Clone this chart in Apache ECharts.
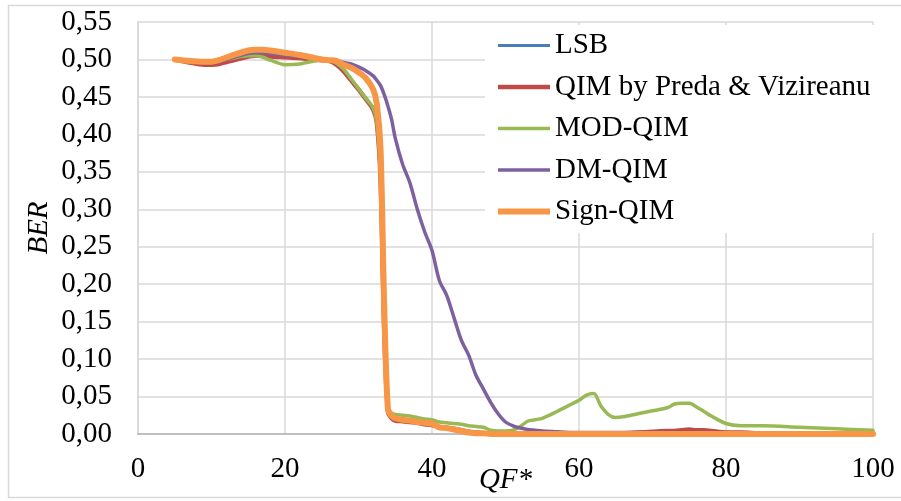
<!DOCTYPE html>
<html>
<head>
<meta charset="utf-8">
<script src="https://cdn.jsdelivr.net/npm/echarts@6/dist/echarts.min.js"></script>
<style>html,body{margin:0;padding:0;background:#fff;}#c{width:901px;height:501px;}</style>
</head>
<body>
<div id="c"></div>
<script>
var qf = [5,7,9,10,11,13,15,16,17,18,20,22,24,25,26,27,28,29,30,31,32,32.5,33,33.5,34,34.5,35,36,37,38,39,40,41,42,43,44,45,46,47,48,49,50,51,52,53,54,55,57,59,60,61,62,63,64,65,66,68,70,72,73,74,75,76,77,78,80,82,85,90,95,100];

var lsb = [0.500,0.498,0.497,0.497,0.499,0.506,0.511,0.512,0.512,0.511,0.508,0.505,0.501,0.500,0.499,0.497,0.492,0.488,0.482,0.474,0.460,0.440,0.380,0.170,0.034,0.024,0.021,0.019,0.018,0.016,0.015,0.014,0.009,0.008,0.006,0.004,0.002,0.001,0.001,0.000,0.000,0.000,0.000,0.000,0.000,0.000,0.000,0.000,0.000,0.000,0.000,0.000,0.000,0.000,0.000,0.000,0.000,0.000,0.000,0.000,0.000,0.000,0.000,0.000,0.000,0.000,0.000,0.000,0.000,0.000,0.000];

var qim = [0.500,0.496,0.493,0.493,0.494,0.499,0.504,0.505,0.505,0.504,0.503,0.502,0.500,0.499,0.498,0.493,0.484,0.472,0.460,0.447,0.433,0.415,0.340,0.140,0.030,0.021,0.018,0.017,0.016,0.015,0.013,0.012,0.009,0.008,0.007,0.005,0.003,0.002,0.001,0.001,0.001,0.001,0.001,0.001,0.001,0.001,0.001,0.001,0.001,0.001,0.001,0.001,0.001,0.001,0.001,0.001,0.002,0.003,0.004,0.004,0.005,0.006,0.005,0.005,0.004,0.002,0.002,0.001,0.001,0.001,0.001];

var modQim = [0.500,0.498,0.497,0.497,0.498,0.502,0.505,0.505,0.503,0.499,0.493,0.494,0.498,0.499,0.499,0.495,0.487,0.474,0.461,0.448,0.435,0.415,0.340,0.140,0.035,0.028,0.026,0.025,0.024,0.022,0.020,0.019,0.016,0.015,0.014,0.013,0.011,0.010,0.009,0.005,0.004,0.004,0.005,0.010,0.017,0.019,0.021,0.030,0.040,0.045,0.052,0.054,0.037,0.026,0.022,0.023,0.027,0.031,0.035,0.040,0.041,0.041,0.036,0.030,0.024,0.014,0.011,0.011,0.009,0.007,0.005];

var dmQim = [0.500,0.498,0.496,0.496,0.497,0.503,0.508,0.509,0.509,0.508,0.506,0.504,0.501,0.500,0.499,0.498,0.496,0.494,0.490,0.485,0.478,0.472,0.465,0.453,0.438,0.420,0.395,0.360,0.335,0.300,0.270,0.245,0.205,0.185,0.155,0.125,0.105,0.078,0.060,0.042,0.027,0.016,0.011,0.008,0.006,0.005,0.004,0.003,0.002,0.002,0.002,0.002,0.002,0.002,0.002,0.002,0.002,0.002,0.002,0.002,0.002,0.002,0.002,0.002,0.002,0.001,0.001,0.001,0.001,0.001,0.001];

var signQim = [0.500,0.498,0.497,0.497,0.499,0.506,0.512,0.513,0.513,0.512,0.509,0.506,0.502,0.500,0.499,0.498,0.493,0.489,0.483,0.475,0.460,0.440,0.380,0.170,0.034,0.024,0.021,0.019,0.018,0.016,0.015,0.014,0.009,0.008,0.006,0.004,0.002,0.001,0.001,0.000,0.000,0.000,0.000,0.000,0.000,0.000,0.000,0.000,0.000,0.000,0.000,0.000,0.000,0.000,0.000,0.000,0.000,0.000,0.000,0.000,0.000,0.000,0.000,0.000,0.000,0.000,0.000,0.000,0.000,0.000,0.000];

var seriesNames = ['LSB','QIM by Preda & Vizireanu','MOD-QIM','DM-QIM','Sign-QIM'];
var seriesValues = [lsb, qim, modQim, dmQim, signQim];
var seriesColors = ['#4a7ebb','#be4b48','#98b954','#7d60a0','#f79646'];
var seriesWidths = [3, 4.5, 3.5, 3.5, 6];

var FONT = "'Liberation Serif','Times New Roman',serif";
var FS = 29;

function pairs(vals){ return qf.map(function(x,i){ return [x, vals[i]]; }); }

var chart = echarts.init(document.getElementById('c'), null, {renderer:'canvas'});
chart.setOption({
  animation: false,
  backgroundColor: '#ffffff',
  textStyle: {fontFamily: FONT},
  graphic: [{
    type: 'rect', silent: true, z: -10,
    shape: {x: 8.5, y: 5.5, width: 900, height: 492},
    style: {fill: 'none', stroke: '#d9d9d9', lineWidth: 1.5}
  }],
  grid: {left: 138, right: 28, top: 22, bottom: 67, containLabel: false, outerBoundsMode: 'none'},
  legend: {
    orient: 'vertical',
    left: 485, top: 25,
    padding: [6, 5, 7, 13],
    backgroundColor: '#ffffff',
    itemWidth: 52, itemHeight: 14, itemGap: 12.5,
    textStyle: {fontFamily: FONT, fontSize: FS, color: '#000', lineHeight: 28, padding: [0,0,0,0]},
    data: seriesNames.map(function(n,i){ return {name: n, icon: 'path://M0,0L52,0L52,' + (seriesWidths[i]) + 'L0,' + (seriesWidths[i]) + 'Z'}; })
  },
  xAxis: {
    type: 'value', min: 0, max: 100, interval: 20,
    name: 'QF*', nameLocation: 'middle', nameGap: 32, nameMoveOverlap: false,
    nameTextStyle: {fontFamily: FONT, fontSize: FS, fontStyle: 'italic', color: '#000'},
    axisLine: {show: true, onZero: false, lineStyle: {color: '#bfbfbf', width: 2}},
    axisTick: {show: false},
    axisLabel: {fontFamily: FONT, fontSize: FS, color: '#000', margin: 21},
    splitLine: {show: true, lineStyle: {color: '#d9d9d9', width: 1.5}}
  },
  yAxis: {
    type: 'value', min: 0, max: 0.55, interval: 0.05,
    name: 'BER', nameLocation: 'middle', nameGap: 84, nameRotate: 90, nameMoveOverlap: false,
    nameTextStyle: {fontFamily: FONT, fontSize: FS, fontStyle: 'italic', color: '#000'},
    axisLine: {show: true, lineStyle: {color: '#d9d9d9', width: 1.5}},
    axisTick: {show: false},
    axisLabel: {fontFamily: FONT, fontSize: FS, color: '#000', margin: 26,
      formatter: function(v){ return v.toFixed(2).replace('.', ','); }},
    splitLine: {show: true, lineStyle: {color: '#d9d9d9', width: 1.5}}
  },
  series: seriesNames.map(function(n,i){
    return {
      name: n, type: 'line', data: pairs(seriesValues[i]),
      smooth: 0.3, showSymbol: false, symbol: 'none', clip: false,
      itemStyle: {color: seriesColors[i]},
      lineStyle: {color: seriesColors[i], width: seriesWidths[i], cap: 'round', join: 'round'},
      z: 2 + i
    };
  })
});
</script>
</body>
</html>
